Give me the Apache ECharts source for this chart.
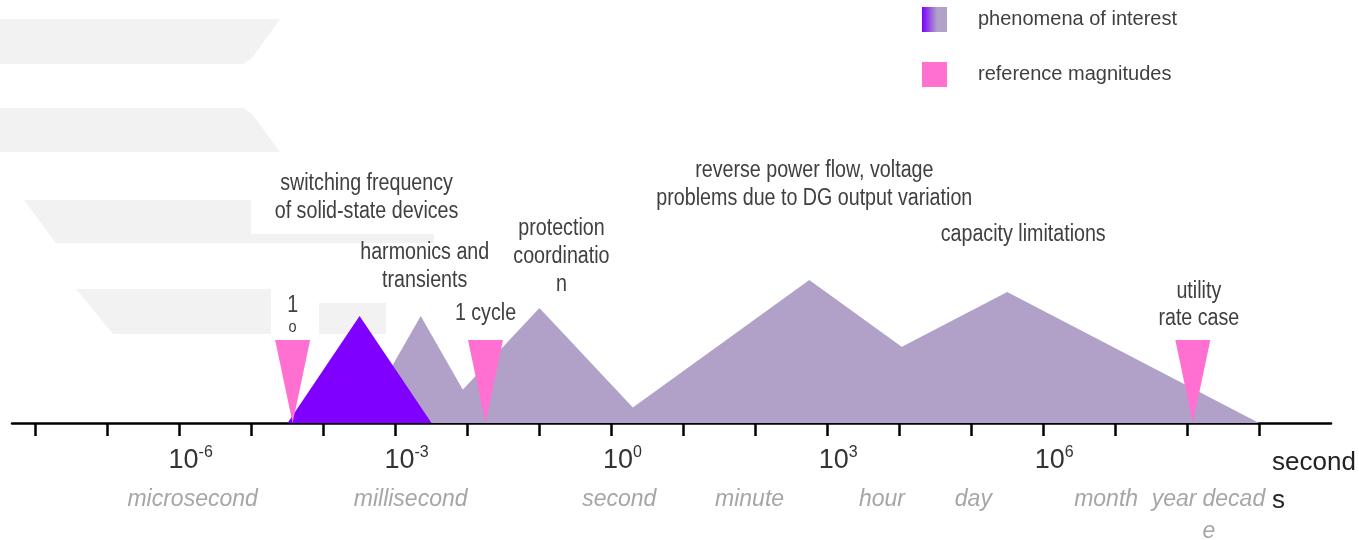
<!DOCTYPE html>
<html>
<head>
<meta charset="utf-8">
<script src="https://cdn.jsdelivr.net/npm/echarts@6/dist/echarts.min.js"></script>
<style>
html,body{margin:0;padding:0;background:#fff;overflow:hidden;}
#chart{width:1359px;height:540px;}
</style>
</head>
<body>
<div id="chart"></div>
<script>
// ---------------- data (x values are log10 of seconds) ----------------
var phenomenaNames = [
  'switching frequency\nof solid-state devices',
  'harmonics and\ntransients',
  'protection\ncoordinatio\nn',
  'reverse power flow, voltage\nproblems due to DG output variation',
  'capacity limitations'
];
var phenomenaStart  = [-4.5, -3.5, -2.5, 0, 2];
var phenomenaPeak   = [-3.5, -2.65, -1, 2.75, 5.5];
var phenomenaEnd    = [-2.5, -1.8, 0.5, 5.5, 9];
var phenomenaHeight = [107, 107, 115, 143, 131];
var phenomenaHighlighted = [true, false, false, false, false];

var referenceNames = ['1\no', '1 cycle', 'utility\nrate case'];
var referenceExp   = [-4.43, -1.75, 8.08];

var minorTickExp = [-8,-7,-6,-5,-4,-3,-2,-1,0,1,2,3,4,5,6,7,8,9];
var majorLabelExp = [-6, -3, 0, 3, 6];

var unitNames    = ['microsecond','millisecond','second','minute','hour','day','month','year','decad\ne'];
var unitLabelExp = [-5.82, -2.79, 0.11, 1.92, 3.76, 5.03, 6.875, 7.82, 8.65];

var seriesNames = ['phenomena of interest', 'reference magnitudes'];
var axisName = 'second\ns';

// ---------------- style ----------------
var FONT = '"Liberation Sans", Arial, sans-serif';
var C_PURPLE = '#8000ff';
var C_GREY = '#b1a1c8';
var C_PINK = '#ff70d0';
var C_TEXT = '#404040';
var C_UNIT = '#a6a6a6';
var C_WATERMARK = '#f2f2f2';
var NARROW = 0.855;

// label offsets (pixels) relative to triangle peaks
var phenLabelOffset = [[7, -118], [4, -49], [22, -51], [5, -95], [16, -57]];
var refLabelOffset = [[0, -26], [0, -26], [6, -35]];

// decorative background watermark (pixel outlines)
var watermarkShapes = [
  [[0, 19], [280, 19], [252, 58], [243, 64], [0, 64]],
  [[0, 108], [243, 108], [252, 114], [280, 152], [0, 152]],
  [[24, 200], [251, 200], [251, 234], [434, 234], [434, 243], [56, 243]],
  [[76, 289], [271, 289], [271, 334], [113, 334]],
  [[319, 303], [386, 303], [386, 334], [319, 334]]
];

// build ordered data: normal first, highlighted on top
var phenData = [];
[false, true].forEach(function (hl) {
  for (var i = 0; i < phenomenaNames.length; i++) {
    if (phenomenaHighlighted[i] === hl) {
      phenData.push({
        value: [phenomenaStart[i], phenomenaPeak[i], phenomenaEnd[i], phenomenaHeight[i], i],
        name: phenomenaNames[i]
      });
    }
  }
});
var refData = referenceExp.map(function (v, i) {
  return { value: [v, 0, i], name: referenceNames[i] };
});

var chart = echarts.init(document.getElementById('chart'), null, { renderer: 'canvas' });

var option = {
  backgroundColor: '#ffffff',
  animation: false,
  textStyle: { fontFamily: FONT },
  graphic: watermarkShapes.map(function (pts) {
    return { type: 'polygon', z: -10, silent: true, shape: { points: pts }, style: { fill: C_WATERMARK } };
  }),
  legend: {
    orient: 'vertical',
    left: 922,
    top: 7,
    padding: 0,
    itemWidth: 25,
    itemHeight: 25,
    itemGap: 30,
    selectedMode: false,
    textStyle: { fontFamily: FONT, fontSize: 20, color: C_TEXT, padding: [0, 0, 0, 26] },
    data: [
      {
        name: seriesNames[0], icon: 'rect',
        itemStyle: {
          color: new echarts.graphic.LinearGradient(0, 0, 1, 0, [
            { offset: 0, color: '#7a00ff' },
            { offset: 0.6, color: C_GREY },
            { offset: 1, color: C_GREY }
          ])
        }
      },
      { name: seriesNames[1], icon: 'rect', itemStyle: { color: C_PINK } }
    ]
  },
  grid: { left: 12, right: 28, top: 123, bottom: 117, containLabel: false, outerBoundsMode: 'none' },
  xAxis: [
    {
      type: 'value',
      min: -8.33,
      max: 10,
      position: 'bottom',
      splitLine: { show: false },
      axisLine: { show: true, lineStyle: { color: '#000', width: 2.5 } },
      axisTick: {
        show: true, inside: false, length: 13,
        customValues: minorTickExp,
        lineStyle: { color: '#000', width: 2.5 }
      },
      axisLabel: {
        show: true,
        hideOverlap: false,
        customValues: majorLabelExp,
        margin: 22,
        formatter: function (v) { return '{b|10}{s|' + v + '}'; },
        rich: {
          b: { fontFamily: FONT, fontSize: 27, lineHeight: 32, color: '#333', padding: [0, 0, 0, 22] },
          s: { fontFamily: FONT, fontSize: 16, lineHeight: 16, color: '#333', verticalAlign: 'top' }
        }
      },
      name: axisName,
      nameLocation: 'end',
      nameGap: -59,
      nameMoveOverlap: false,
      nameTextStyle: {
        fontFamily: FONT, fontSize: 26, lineHeight: 38, color: '#222',
        align: 'left', verticalAlign: 'top', padding: [21, 0, 0, 0]
      }
    },
    {
      type: 'value',
      min: -8.33,
      max: 10,
      position: 'bottom',
      gridIndex: 0,
      splitLine: { show: false },
      axisLine: { show: false },
      axisTick: { show: false },
      axisLabel: {
        show: true,
        hideOverlap: false,
        showMinLabel: true,
        showMaxLabel: true,
        customValues: unitLabelExp,
        margin: 61,
        formatter: function (v) {
          var idx = -1;
          for (var k = 0; k < unitLabelExp.length; k++) {
            if (Math.abs(unitLabelExp[k] - v) < 1e-6) idx = k;
          }
          if (idx < 0) return '';
          var parts = unitNames[idx].split('\n');
          return parts.map(function (p) { return '{u|' + p + '}'; }).join('\n');
        },
        rich: {
          u: { fontFamily: FONT, fontSize: 23, fontStyle: 'italic', lineHeight: 32, color: C_UNIT, align: 'left' }
        }
      }
    }
  ],
  yAxis: { type: 'value', min: 0, max: 300, show: false },
  series: [
    {
      name: seriesNames[0],
      type: 'custom',
      xAxisIndex: 0,
      z: 2,
      data: phenData,
      renderItem: function (params, api) {
        var i = api.value(4);
        var p0 = api.coord([api.value(0), 0]);
        var p1 = api.coord([api.value(1), api.value(3)]);
        var p2 = api.coord([api.value(2), 0]);
        var off = phenLabelOffset[i];
        return {
          type: 'group',
          children: [
            {
              type: 'polygon',
              shape: { points: [p0, p1, p2] },
              style: { fill: phenomenaHighlighted[i] ? C_PURPLE : C_GREY }
            },
            {
              type: 'text',
              x: p1[0] + off[0],
              y: p1[1] + off[1],
              scaleX: NARROW,
              z2: 10,
              style: {
                text: phenomenaNames[i],
                fill: C_TEXT,
                font: '23px ' + FONT,
                lineHeight: 28,
                align: 'center',
                verticalAlign: 'middle'
              }
            }
          ]
        };
      }
    },
    {
      name: seriesNames[1],
      type: 'custom',
      xAxisIndex: 0,
      z: 3,
      data: refData,
      renderItem: function (params, api) {
        var i = api.value(2);
        var tip = api.coord([api.value(0), 0]);
        var h = 83, hw = 17.5;
        var off = refLabelOffset[i];
        var parts = referenceNames[i].split('\n');
        var txt = (i === 0) ? '{a|' + parts[0] + '}\n{o|' + parts[1] + '}' :
          parts.map(function (p) { return '{a|' + p + '}'; }).join('\n');
        return {
          type: 'group',
          children: [
            {
              type: 'polygon',
              shape: { points: [[tip[0] - hw, tip[1] - h], [tip[0] + hw, tip[1] - h], [tip[0], tip[1]]] },
              style: { fill: C_PINK }
            },
            {
              type: 'text',
              x: tip[0] + off[0],
              y: tip[1] - h + off[1],
              scaleX: NARROW,
              style: {
                text: txt,
                align: 'center',
                verticalAlign: 'middle',
                rich: {
                  a: { fontFamily: FONT, fontSize: 23, lineHeight: 27, fill: C_TEXT, color: C_TEXT },
                  o: { fontFamily: FONT, fontSize: 17, lineHeight: 17, fill: C_TEXT, color: C_TEXT }
                }
              }
            }
          ]
        };
      }
    }
  ]
};

chart.setOption(option);
</script>
</body>
</html>
